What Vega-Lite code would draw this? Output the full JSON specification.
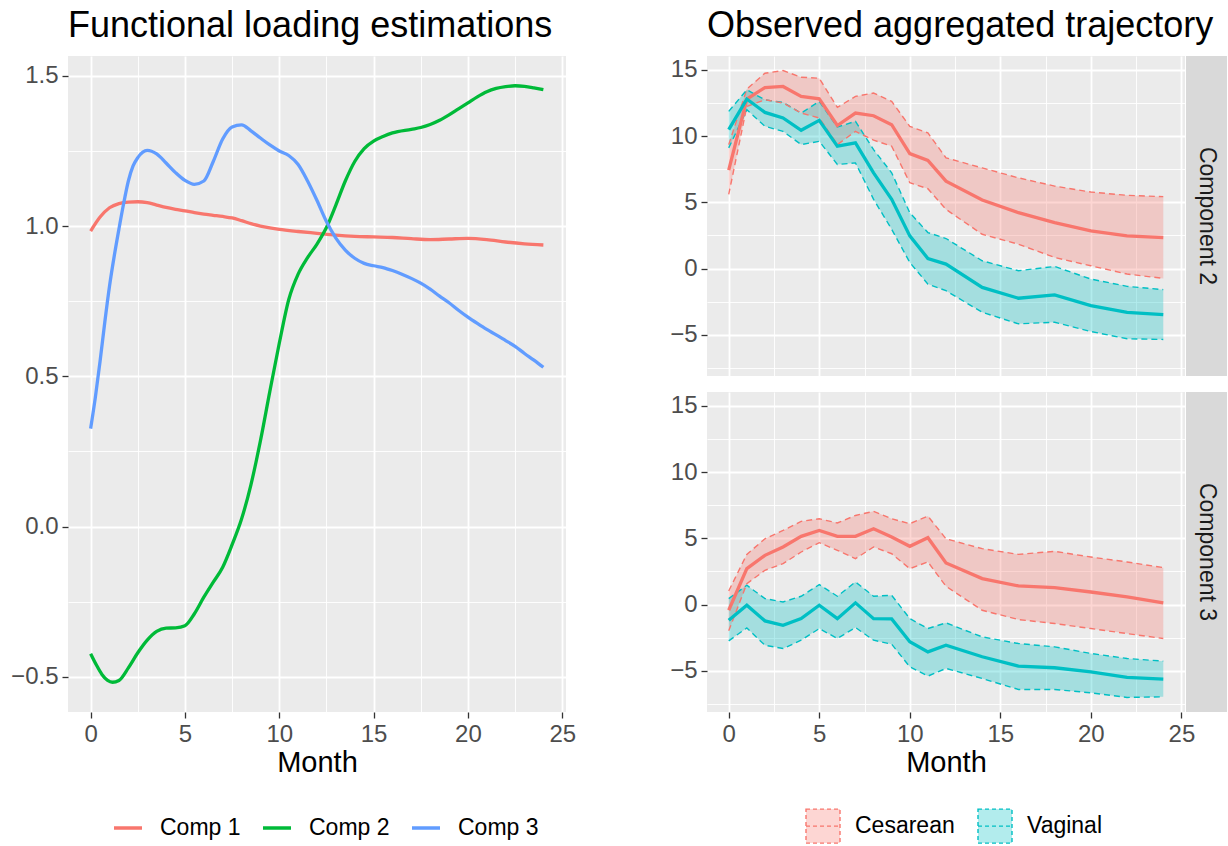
{
  "$schema": "https://vega.github.io/schema/vega-lite/v6.json",
  "background": "#FFFFFF",
  "padding": {"left": 10, "top": 8, "right": 0, "bottom": 0},
  "config": {
    "font": "Liberation Sans",
    "view": {"fill": "#EBEBEB", "stroke": null},
    "axis": {"domain": false, "labelFontSize": 24, "labelColor": "#4D4D4D", "labelFont": "Liberation Sans", "titleFont": "Liberation Sans", "titleFontSize": 29, "titleFontWeight": "normal", "titleColor": "#000000", "gridColor": "#FFFFFF", "tickColor": "#333333", "tickSize": 6, "tickWidth": 1.3, "labelOverlap": false, "labelFlush": false, "labelPadding": 4, "titlePadding": 2},
    "title": {"fontSize": 36, "fontWeight": "normal", "anchor": "start", "frame": "group", "color": "#000000", "offset": 11, "font": "Liberation Sans"},
    "legend": {"labelFontSize": 23, "labelColor": "#000000", "labelLimit": 0, "padding": 0, "labelFont": "Liberation Sans"}
  },
  "datasets": {
    "loadings": [
      {"comp": "Comp 1", "month": 0, "value": 0.983},
      {"comp": "Comp 1", "month": 0.5, "value": 1.03},
      {"comp": "Comp 1", "month": 1, "value": 1.061},
      {"comp": "Comp 1", "month": 1.5, "value": 1.075},
      {"comp": "Comp 1", "month": 2, "value": 1.08},
      {"comp": "Comp 1", "month": 2.5, "value": 1.081},
      {"comp": "Comp 1", "month": 3, "value": 1.078},
      {"comp": "Comp 1", "month": 3.5, "value": 1.07},
      {"comp": "Comp 1", "month": 4, "value": 1.062},
      {"comp": "Comp 1", "month": 4.5, "value": 1.056},
      {"comp": "Comp 1", "month": 5, "value": 1.051},
      {"comp": "Comp 1", "month": 5.5, "value": 1.045},
      {"comp": "Comp 1", "month": 6, "value": 1.04},
      {"comp": "Comp 1", "month": 6.5, "value": 1.036},
      {"comp": "Comp 1", "month": 7, "value": 1.032},
      {"comp": "Comp 1", "month": 7.5, "value": 1.027},
      {"comp": "Comp 1", "month": 8, "value": 1.018},
      {"comp": "Comp 1", "month": 8.5, "value": 1.008},
      {"comp": "Comp 1", "month": 9, "value": 1.0},
      {"comp": "Comp 1", "month": 9.5, "value": 0.994},
      {"comp": "Comp 1", "month": 10, "value": 0.989},
      {"comp": "Comp 1", "month": 11, "value": 0.982},
      {"comp": "Comp 1", "month": 12, "value": 0.976},
      {"comp": "Comp 1", "month": 13, "value": 0.97},
      {"comp": "Comp 1", "month": 14, "value": 0.966},
      {"comp": "Comp 1", "month": 15, "value": 0.964},
      {"comp": "Comp 1", "month": 16, "value": 0.962},
      {"comp": "Comp 1", "month": 17, "value": 0.958},
      {"comp": "Comp 1", "month": 18, "value": 0.955},
      {"comp": "Comp 1", "month": 19, "value": 0.957},
      {"comp": "Comp 1", "month": 20, "value": 0.959},
      {"comp": "Comp 1", "month": 21, "value": 0.955},
      {"comp": "Comp 1", "month": 22, "value": 0.947},
      {"comp": "Comp 1", "month": 23, "value": 0.941},
      {"comp": "Comp 1", "month": 24, "value": 0.937},
      {"comp": "Comp 2", "month": 0, "value": -0.423},
      {"comp": "Comp 2", "month": 0.3, "value": -0.46},
      {"comp": "Comp 2", "month": 0.6, "value": -0.492},
      {"comp": "Comp 2", "month": 0.9, "value": -0.512},
      {"comp": "Comp 2", "month": 1.16, "value": -0.518},
      {"comp": "Comp 2", "month": 1.5, "value": -0.512},
      {"comp": "Comp 2", "month": 2, "value": -0.47},
      {"comp": "Comp 2", "month": 2.5, "value": -0.42},
      {"comp": "Comp 2", "month": 3, "value": -0.378},
      {"comp": "Comp 2", "month": 3.5, "value": -0.349},
      {"comp": "Comp 2", "month": 4, "value": -0.338},
      {"comp": "Comp 2", "month": 4.5, "value": -0.337},
      {"comp": "Comp 2", "month": 5, "value": -0.33},
      {"comp": "Comp 2", "month": 5.5, "value": -0.29},
      {"comp": "Comp 2", "month": 6, "value": -0.235},
      {"comp": "Comp 2", "month": 6.5, "value": -0.185},
      {"comp": "Comp 2", "month": 7, "value": -0.135},
      {"comp": "Comp 2", "month": 7.5, "value": -0.06},
      {"comp": "Comp 2", "month": 8, "value": 0.025},
      {"comp": "Comp 2", "month": 8.5, "value": 0.14},
      {"comp": "Comp 2", "month": 9, "value": 0.285},
      {"comp": "Comp 2", "month": 9.5, "value": 0.45},
      {"comp": "Comp 2", "month": 10, "value": 0.61},
      {"comp": "Comp 2", "month": 10.5, "value": 0.755},
      {"comp": "Comp 2", "month": 11, "value": 0.84},
      {"comp": "Comp 2", "month": 11.5, "value": 0.895},
      {"comp": "Comp 2", "month": 12, "value": 0.94},
      {"comp": "Comp 2", "month": 12.5, "value": 0.995},
      {"comp": "Comp 2", "month": 13, "value": 1.07},
      {"comp": "Comp 2", "month": 13.5, "value": 1.15},
      {"comp": "Comp 2", "month": 14, "value": 1.215},
      {"comp": "Comp 2", "month": 14.5, "value": 1.258},
      {"comp": "Comp 2", "month": 15, "value": 1.283},
      {"comp": "Comp 2", "month": 15.5, "value": 1.298},
      {"comp": "Comp 2", "month": 16, "value": 1.31},
      {"comp": "Comp 2", "month": 17, "value": 1.322},
      {"comp": "Comp 2", "month": 17.5, "value": 1.328},
      {"comp": "Comp 2", "month": 18, "value": 1.338},
      {"comp": "Comp 2", "month": 18.5, "value": 1.352},
      {"comp": "Comp 2", "month": 19, "value": 1.37},
      {"comp": "Comp 2", "month": 19.5, "value": 1.39},
      {"comp": "Comp 2", "month": 20, "value": 1.41},
      {"comp": "Comp 2", "month": 20.5, "value": 1.43},
      {"comp": "Comp 2", "month": 21, "value": 1.447},
      {"comp": "Comp 2", "month": 21.5, "value": 1.458},
      {"comp": "Comp 2", "month": 22, "value": 1.464},
      {"comp": "Comp 2", "month": 22.5, "value": 1.467},
      {"comp": "Comp 2", "month": 23, "value": 1.465},
      {"comp": "Comp 2", "month": 23.5, "value": 1.46},
      {"comp": "Comp 2", "month": 24, "value": 1.454},
      {"comp": "Comp 3", "month": 0, "value": 0.326},
      {"comp": "Comp 3", "month": 0.25, "value": 0.43},
      {"comp": "Comp 3", "month": 0.5, "value": 0.55},
      {"comp": "Comp 3", "month": 0.75, "value": 0.68},
      {"comp": "Comp 3", "month": 1, "value": 0.8},
      {"comp": "Comp 3", "month": 1.25, "value": 0.9},
      {"comp": "Comp 3", "month": 1.5, "value": 0.99},
      {"comp": "Comp 3", "month": 1.75, "value": 1.075},
      {"comp": "Comp 3", "month": 2, "value": 1.15},
      {"comp": "Comp 3", "month": 2.25, "value": 1.2},
      {"comp": "Comp 3", "month": 2.5, "value": 1.228},
      {"comp": "Comp 3", "month": 3, "value": 1.252},
      {"comp": "Comp 3", "month": 3.5, "value": 1.24},
      {"comp": "Comp 3", "month": 4, "value": 1.21},
      {"comp": "Comp 3", "month": 4.5, "value": 1.178},
      {"comp": "Comp 3", "month": 5, "value": 1.152},
      {"comp": "Comp 3", "month": 5.5, "value": 1.139},
      {"comp": "Comp 3", "month": 6, "value": 1.15},
      {"comp": "Comp 3", "month": 6.5, "value": 1.215},
      {"comp": "Comp 3", "month": 7, "value": 1.29},
      {"comp": "Comp 3", "month": 7.5, "value": 1.33},
      {"comp": "Comp 3", "month": 8, "value": 1.337},
      {"comp": "Comp 3", "month": 8.5, "value": 1.317},
      {"comp": "Comp 3", "month": 9, "value": 1.293},
      {"comp": "Comp 3", "month": 9.5, "value": 1.27},
      {"comp": "Comp 3", "month": 10, "value": 1.25},
      {"comp": "Comp 3", "month": 10.5, "value": 1.235},
      {"comp": "Comp 3", "month": 11, "value": 1.205},
      {"comp": "Comp 3", "month": 11.5, "value": 1.15},
      {"comp": "Comp 3", "month": 12, "value": 1.085},
      {"comp": "Comp 3", "month": 12.5, "value": 1.015},
      {"comp": "Comp 3", "month": 13, "value": 0.96},
      {"comp": "Comp 3", "month": 13.5, "value": 0.92},
      {"comp": "Comp 3", "month": 14, "value": 0.893},
      {"comp": "Comp 3", "month": 14.5, "value": 0.876},
      {"comp": "Comp 3", "month": 15, "value": 0.868},
      {"comp": "Comp 3", "month": 15.5, "value": 0.862},
      {"comp": "Comp 3", "month": 16, "value": 0.852},
      {"comp": "Comp 3", "month": 16.5, "value": 0.84},
      {"comp": "Comp 3", "month": 17, "value": 0.826},
      {"comp": "Comp 3", "month": 17.5, "value": 0.81},
      {"comp": "Comp 3", "month": 18, "value": 0.79},
      {"comp": "Comp 3", "month": 18.5, "value": 0.767},
      {"comp": "Comp 3", "month": 19, "value": 0.745},
      {"comp": "Comp 3", "month": 19.5, "value": 0.72},
      {"comp": "Comp 3", "month": 20, "value": 0.697},
      {"comp": "Comp 3", "month": 20.5, "value": 0.676},
      {"comp": "Comp 3", "month": 21, "value": 0.656},
      {"comp": "Comp 3", "month": 21.5, "value": 0.638},
      {"comp": "Comp 3", "month": 22, "value": 0.619},
      {"comp": "Comp 3", "month": 22.5, "value": 0.6},
      {"comp": "Comp 3", "month": 23, "value": 0.576},
      {"comp": "Comp 3", "month": 23.5, "value": 0.554},
      {"comp": "Comp 3", "month": 24, "value": 0.53}
    ],
    "traj": [
      {"comp": "Component 2", "group": "Cesarean", "month": 0, "mean": 7.43, "lo": 5.6, "hi": 9.36},
      {"comp": "Component 2", "group": "Cesarean", "month": 1, "mean": 12.8, "lo": 12.24, "hi": 13.55},
      {"comp": "Component 2", "group": "Cesarean", "month": 2, "mean": 13.67, "lo": 12.75, "hi": 14.75},
      {"comp": "Component 2", "group": "Cesarean", "month": 3, "mean": 13.75, "lo": 12.5, "hi": 14.95},
      {"comp": "Component 2", "group": "Cesarean", "month": 4, "mean": 13.0, "lo": 11.74, "hi": 14.45},
      {"comp": "Component 2", "group": "Cesarean", "month": 5, "mean": 12.82, "lo": 11.37, "hi": 14.37},
      {"comp": "Component 2", "group": "Cesarean", "month": 6, "mean": 10.8, "lo": 9.36, "hi": 12.17},
      {"comp": "Component 2", "group": "Cesarean", "month": 7, "mean": 11.74, "lo": 10.36, "hi": 13.0},
      {"comp": "Component 2", "group": "Cesarean", "month": 8, "mean": 11.54, "lo": 9.7, "hi": 13.25},
      {"comp": "Component 2", "group": "Cesarean", "month": 9, "mean": 10.86, "lo": 9.24, "hi": 12.62},
      {"comp": "Component 2", "group": "Cesarean", "month": 10, "mean": 8.68, "lo": 6.48, "hi": 10.74},
      {"comp": "Component 2", "group": "Cesarean", "month": 11, "mean": 8.16, "lo": 6.03, "hi": 10.24},
      {"comp": "Component 2", "group": "Cesarean", "month": 12, "mean": 6.6, "lo": 4.47, "hi": 8.36},
      {"comp": "Component 2", "group": "Cesarean", "month": 14, "mean": 5.18, "lo": 2.59, "hi": 7.6},
      {"comp": "Component 2", "group": "Cesarean", "month": 16, "mean": 4.22, "lo": 1.84, "hi": 6.85},
      {"comp": "Component 2", "group": "Cesarean", "month": 18, "mean": 3.47, "lo": 0.84, "hi": 6.23},
      {"comp": "Component 2", "group": "Cesarean", "month": 20, "mean": 2.84, "lo": 0.21, "hi": 5.78},
      {"comp": "Component 2", "group": "Cesarean", "month": 22, "mean": 2.47, "lo": -0.41, "hi": 5.53},
      {"comp": "Component 2", "group": "Cesarean", "month": 24, "mean": 2.34, "lo": -0.74, "hi": 5.43},
      {"comp": "Component 2", "group": "Vaginal", "month": 0, "mean": 10.49, "lo": 9.11, "hi": 11.87},
      {"comp": "Component 2", "group": "Vaginal", "month": 1, "mean": 12.8, "lo": 11.99, "hi": 13.5},
      {"comp": "Component 2", "group": "Vaginal", "month": 2, "mean": 11.79, "lo": 10.74, "hi": 12.74},
      {"comp": "Component 2", "group": "Vaginal", "month": 3, "mean": 11.37, "lo": 10.36, "hi": 12.54},
      {"comp": "Component 2", "group": "Vaginal", "month": 4, "mean": 10.44, "lo": 9.36, "hi": 11.74},
      {"comp": "Component 2", "group": "Vaginal", "month": 5, "mean": 11.19, "lo": 9.61, "hi": 12.62},
      {"comp": "Component 2", "group": "Vaginal", "month": 6, "mean": 9.24, "lo": 7.86, "hi": 10.69},
      {"comp": "Component 2", "group": "Vaginal", "month": 7, "mean": 9.49, "lo": 7.98, "hi": 11.12},
      {"comp": "Component 2", "group": "Vaginal", "month": 8, "mean": 7.23, "lo": 5.23, "hi": 8.98},
      {"comp": "Component 2", "group": "Vaginal", "month": 9, "mean": 5.23, "lo": 2.97, "hi": 7.23},
      {"comp": "Component 2", "group": "Vaginal", "month": 10, "mean": 2.47, "lo": 0.46, "hi": 4.22},
      {"comp": "Component 2", "group": "Vaginal", "month": 11, "mean": 0.76, "lo": -1.17, "hi": 2.72},
      {"comp": "Component 2", "group": "Vaginal", "month": 12, "mean": 0.34, "lo": -1.67, "hi": 2.27},
      {"comp": "Component 2", "group": "Vaginal", "month": 14, "mean": -1.42, "lo": -3.3, "hi": 0.59},
      {"comp": "Component 2", "group": "Vaginal", "month": 16, "mean": -2.24, "lo": -4.17, "hi": -0.16},
      {"comp": "Component 2", "group": "Vaginal", "month": 18, "mean": -1.99, "lo": -4.05, "hi": 0.16},
      {"comp": "Component 2", "group": "Vaginal", "month": 20, "mean": -2.79, "lo": -4.75, "hi": -0.79},
      {"comp": "Component 2", "group": "Vaginal", "month": 22, "mean": -3.3, "lo": -5.3, "hi": -1.34},
      {"comp": "Component 2", "group": "Vaginal", "month": 24, "mean": -3.47, "lo": -5.35, "hi": -1.59},
      {"comp": "Component 3", "group": "Cesarean", "month": 0, "mean": -0.43, "lo": -1.98, "hi": 1.03},
      {"comp": "Component 3", "group": "Cesarean", "month": 1, "mean": 2.71, "lo": 1.58, "hi": 3.79},
      {"comp": "Component 3", "group": "Cesarean", "month": 2, "mean": 3.72, "lo": 2.59, "hi": 4.97},
      {"comp": "Component 3", "group": "Cesarean", "month": 3, "mean": 4.35, "lo": 3.09, "hi": 5.6},
      {"comp": "Component 3", "group": "Cesarean", "month": 4, "mean": 5.15, "lo": 3.97, "hi": 6.28},
      {"comp": "Component 3", "group": "Cesarean", "month": 5, "mean": 5.6, "lo": 4.67, "hi": 6.48},
      {"comp": "Component 3", "group": "Cesarean", "month": 6, "mean": 5.15, "lo": 4.1, "hi": 6.16},
      {"comp": "Component 3", "group": "Cesarean", "month": 7, "mean": 5.15, "lo": 3.47, "hi": 6.73},
      {"comp": "Component 3", "group": "Cesarean", "month": 8, "mean": 5.73, "lo": 4.35, "hi": 7.04},
      {"comp": "Component 3", "group": "Cesarean", "month": 9, "mean": 5.1, "lo": 3.84, "hi": 6.48},
      {"comp": "Component 3", "group": "Cesarean", "month": 10, "mean": 4.4, "lo": 2.71, "hi": 6.11},
      {"comp": "Component 3", "group": "Cesarean", "month": 11, "mean": 5.05, "lo": 3.22, "hi": 6.68},
      {"comp": "Component 3", "group": "Cesarean", "month": 12, "mean": 3.14, "lo": 1.38, "hi": 4.97},
      {"comp": "Component 3", "group": "Cesarean", "month": 14, "mean": 1.96, "lo": -0.43, "hi": 4.22},
      {"comp": "Component 3", "group": "Cesarean", "month": 16, "mean": 1.41, "lo": -1.13, "hi": 3.79},
      {"comp": "Component 3", "group": "Cesarean", "month": 18, "mean": 1.28, "lo": -1.43, "hi": 4.02},
      {"comp": "Component 3", "group": "Cesarean", "month": 20, "mean": 0.95, "lo": -1.81, "hi": 3.59},
      {"comp": "Component 3", "group": "Cesarean", "month": 22, "mean": 0.58, "lo": -2.19, "hi": 3.22},
      {"comp": "Component 3", "group": "Cesarean", "month": 24, "mean": 0.13, "lo": -2.56, "hi": 2.79},
      {"comp": "Component 3", "group": "Vaginal", "month": 0, "mean": -1.18, "lo": -2.74, "hi": 0.45},
      {"comp": "Component 3", "group": "Vaginal", "month": 1, "mean": -0.05, "lo": -1.76, "hi": 1.46},
      {"comp": "Component 3", "group": "Vaginal", "month": 2, "mean": -1.23, "lo": -3.07, "hi": 0.45},
      {"comp": "Component 3", "group": "Vaginal", "month": 3, "mean": -1.56, "lo": -3.32, "hi": 0.2},
      {"comp": "Component 3", "group": "Vaginal", "month": 4, "mean": -1.06, "lo": -2.69, "hi": 0.63},
      {"comp": "Component 3", "group": "Vaginal", "month": 5, "mean": -0.05, "lo": -1.81, "hi": 1.51},
      {"comp": "Component 3", "group": "Vaginal", "month": 6, "mean": -1.06, "lo": -2.56, "hi": 0.63},
      {"comp": "Component 3", "group": "Vaginal", "month": 7, "mean": 0.13, "lo": -1.73, "hi": 1.71},
      {"comp": "Component 3", "group": "Vaginal", "month": 8, "mean": -1.06, "lo": -2.69, "hi": 0.63},
      {"comp": "Component 3", "group": "Vaginal", "month": 9, "mean": -1.08, "lo": -2.99, "hi": 0.7},
      {"comp": "Component 3", "group": "Vaginal", "month": 10, "mean": -2.81, "lo": -4.7, "hi": -1.06},
      {"comp": "Component 3", "group": "Vaginal", "month": 11, "mean": -3.57, "lo": -5.4, "hi": -1.81},
      {"comp": "Component 3", "group": "Vaginal", "month": 12, "mean": -3.07, "lo": -4.82, "hi": -1.38},
      {"comp": "Component 3", "group": "Vaginal", "month": 14, "mean": -3.94, "lo": -5.58, "hi": -2.44},
      {"comp": "Component 3", "group": "Vaginal", "month": 16, "mean": -4.65, "lo": -6.41, "hi": -2.94},
      {"comp": "Component 3", "group": "Vaginal", "month": 18, "mean": -4.77, "lo": -6.41, "hi": -3.19},
      {"comp": "Component 3", "group": "Vaginal", "month": 20, "mean": -5.08, "lo": -6.66, "hi": -3.69},
      {"comp": "Component 3", "group": "Vaginal", "month": 22, "mean": -5.5, "lo": -7.01, "hi": -4.07},
      {"comp": "Component 3", "group": "Vaginal", "month": 24, "mean": -5.63, "lo": -6.96, "hi": -4.27}
    ]
  },
  "resolve": {"scale": {"stroke": "independent", "fill": "independent"}},
  "spacing": 93,
  "hconcat": [
    {
      "width": 498,
      "height": 656,
      "title": {"text": "Functional loading estimations"},
      "data": {"name": "loadings"},
      "mark": {"type": "line", "strokeWidth": 3.3, "interpolate": "monotone"},
      "encoding": {
        "x": {"field": "month", "type": "quantitative", "title": "Month",
          "scale": {"domain": [-1.2, 25.2], "nice": false, "zero": false},
          "axis": {"values": [0, 2.5, 5, 7.5, 10, 12.5, 15, 17.5, 20, 22.5, 25],
            "labelExpr": "datum.value % 5 === 0 ? datum.label : ''",
            "gridWidth": {"condition": {"test": "datum.value % 5 === 0", "value": 1.8}, "value": 0.9},
            "tickOpacity": {"condition": {"test": "datum.value % 5 === 0", "value": 1}, "value": 0}}},
        "y": {"field": "value", "type": "quantitative", "title": null,
          "scale": {"domain": [-0.617, 1.566], "nice": false, "zero": false},
          "axis": {"values": [-0.5, -0.25, 0, 0.25, 0.5, 0.75, 1, 1.25, 1.5], "format": ".1f",
            "labelExpr": "abs(datum.value * 2 - round(datum.value * 2)) < 0.001 ? datum.label : ''",
            "gridWidth": {"condition": {"test": "abs(datum.value * 2 - round(datum.value * 2)) < 0.001", "value": 1.8}, "value": 0.9},
            "tickOpacity": {"condition": {"test": "abs(datum.value * 2 - round(datum.value * 2)) < 0.001", "value": 1}, "value": 0}}},
        "stroke": {"field": "comp", "type": "nominal",
          "scale": {"domain": ["Comp 1", "Comp 2", "Comp 3"], "range": ["#F8766D", "#00BA38", "#619CFF"]},
          "legend": {"orient": "none", "legendX": 44, "legendY": 756, "direction": "horizontal", "title": null,
            "symbolType": "stroke", "symbolSize": 784, "symbolStrokeWidth": 3.5,
            "labelOffset": 16, "columnPadding": 15}}
      }
    },
    {
      "spacing": 12,
      "vconcat": [
        {
          "bounds": "flush",
          "spacing": 1,
          "hconcat": [
            {
              "width": 478,
              "height": 320,
              "title": {"text": "Observed aggregated trajectory"},
              "data": {"name": "traj"},
              "transform": [{"filter": "datum.comp === 'Component 2'"}],
              "encoding": {
                "x": {"field": "month", "type": "quantitative", "title": null,
                  "scale": {"domain": [-1.2, 25.2], "nice": false, "zero": false},
                  "axis": {"values": [0, 2.5, 5, 7.5, 10, 12.5, 15, 17.5, 20, 22.5, 25], "labels": false, "ticks": false,
                    "gridWidth": {"condition": {"test": "datum.value % 5 === 0", "value": 1.8}, "value": 0.9}}},
                "y": {"field": "mean", "type": "quantitative", "title": null,
                  "scale": {"domain": [-8.11, 16.05], "nice": false, "zero": false},
                  "axis": {"orient": "left", "values": [-7.5, -5, -2.5, 0, 2.5, 5, 7.5, 10, 12.5, 15], "format": "d",
                    "labelExpr": "abs(datum.value / 5 - round(datum.value / 5)) < 0.001 ? datum.label : ''",
                    "gridWidth": {"condition": {"test": "abs(datum.value / 5 - round(datum.value / 5)) < 0.001", "value": 1.8}, "value": 0.9},
                    "tickOpacity": {"condition": {"test": "abs(datum.value / 5 - round(datum.value / 5)) < 0.001", "value": 1}, "value": 0}}}
              },
              "layer": [
                {
                  "mark": {"type": "area", "fillOpacity": 0.3},
                  "encoding": {
                    "y": {"field": "lo", "type": "quantitative", "title": null},
                    "y2": {"field": "hi"},
                    "fill": {"field": "group", "type": "nominal",
                      "scale": {"domain": ["Cesarean", "Vaginal"], "range": ["#F8766D", "#00BFC4"]},
                      "legend": {"orient": "none", "legendX": 98, "legendY": 752, "direction": "horizontal", "title": null,
                        "symbolType": "M-1,-1H1V1H-1Z M-1,0H1", "symbolSize": 1156, "symbolStrokeWidth": 1.4, "symbolDash": [4, 3],
                        "labelOffset": 14, "columnPadding": 20,
                        "encode": {"symbols": {"update": {"fillOpacity": {"value": 0.3}}}}}}
                  }
                },
                {
                  "mark": {"type": "line", "strokeWidth": 1.4, "strokeDash": [6, 4]},
                  "encoding": {
                    "y": {"field": "hi", "type": "quantitative", "title": null},
                    "stroke": {"field": "group", "type": "nominal",
                      "scale": {"domain": ["Cesarean", "Vaginal"], "range": ["#F8766D", "#00BFC4"]},
                      "legend": {"orient": "none", "legendX": 98, "legendY": 752, "direction": "horizontal", "title": null,
                        "symbolType": "M-1,-1H1V1H-1Z M-1,0H1", "symbolSize": 1156, "symbolStrokeWidth": 1.4, "symbolDash": [4, 3],
                        "labelOffset": 14, "columnPadding": 20,
                        "encode": {"symbols": {"update": {"fillOpacity": {"value": 0.3}}}}}}
                  }
                },
                {
                  "mark": {"type": "line", "strokeWidth": 1.4, "strokeDash": [6, 4]},
                  "encoding": {
                    "y": {"field": "lo", "type": "quantitative", "title": null},
                    "stroke": {"field": "group", "type": "nominal"}
                  }
                },
                {
                  "mark": {"type": "line", "strokeWidth": 3.3},
                  "encoding": {
                    "stroke": {"field": "group", "type": "nominal"}
                  }
                }
              ]
            },
            {
              "width": 41,
              "height": 320,
              "view": {"fill": "#D9D9D9", "stroke": null},
              "data": {"values": [{"comp": "Component 2"}]},
              "mark": {"type": "text", "angle": 90, "fontSize": 23, "color": "#1A1A1A", "align": "center", "baseline": "middle", "font": "Liberation Sans"},
              "encoding": {"text": {"field": "comp", "type": "nominal"}}
            }
          ]
        },
        {
          "bounds": "flush",
          "spacing": 1,
          "hconcat": [
            {
              "width": 478,
              "height": 320,
              "data": {"name": "traj"},
              "transform": [{"filter": "datum.comp === 'Component 3'"}],
              "encoding": {
                "x": {"field": "month", "type": "quantitative", "title": "Month",
                  "scale": {"domain": [-1.2, 25.2], "nice": false, "zero": false},
                  "axis": {"values": [0, 2.5, 5, 7.5, 10, 12.5, 15, 17.5, 20, 22.5, 25],
                    "labelExpr": "datum.value % 5 === 0 ? datum.label : ''",
                    "gridWidth": {"condition": {"test": "datum.value % 5 === 0", "value": 1.8}, "value": 0.9},
                    "tickOpacity": {"condition": {"test": "datum.value % 5 === 0", "value": 1}, "value": 0}}},
                "y": {"field": "mean", "type": "quantitative", "title": null,
                  "scale": {"domain": [-8.11, 16.05], "nice": false, "zero": false},
                  "axis": {"orient": "left", "values": [-7.5, -5, -2.5, 0, 2.5, 5, 7.5, 10, 12.5, 15], "format": "d",
                    "labelExpr": "abs(datum.value / 5 - round(datum.value / 5)) < 0.001 ? datum.label : ''",
                    "gridWidth": {"condition": {"test": "abs(datum.value / 5 - round(datum.value / 5)) < 0.001", "value": 1.8}, "value": 0.9},
                    "tickOpacity": {"condition": {"test": "abs(datum.value / 5 - round(datum.value / 5)) < 0.001", "value": 1}, "value": 0}}}
              },
              "layer": [
                {
                  "mark": {"type": "area", "fillOpacity": 0.3},
                  "encoding": {
                    "y": {"field": "lo", "type": "quantitative", "title": null},
                    "y2": {"field": "hi"},
                    "fill": {"field": "group", "type": "nominal",
                      "scale": {"domain": ["Cesarean", "Vaginal"], "range": ["#F8766D", "#00BFC4"]},
                      "legend": {"orient": "none", "legendX": 98, "legendY": 752, "direction": "horizontal", "title": null,
                        "symbolType": "M-1,-1H1V1H-1Z M-1,0H1", "symbolSize": 1156, "symbolStrokeWidth": 1.4, "symbolDash": [4, 3],
                        "labelOffset": 14, "columnPadding": 20,
                        "encode": {"symbols": {"update": {"fillOpacity": {"value": 0.3}}}}}}
                  }
                },
                {
                  "mark": {"type": "line", "strokeWidth": 1.4, "strokeDash": [6, 4]},
                  "encoding": {
                    "y": {"field": "hi", "type": "quantitative", "title": null},
                    "stroke": {"field": "group", "type": "nominal",
                      "scale": {"domain": ["Cesarean", "Vaginal"], "range": ["#F8766D", "#00BFC4"]},
                      "legend": {"orient": "none", "legendX": 98, "legendY": 752, "direction": "horizontal", "title": null,
                        "symbolType": "M-1,-1H1V1H-1Z M-1,0H1", "symbolSize": 1156, "symbolStrokeWidth": 1.4, "symbolDash": [4, 3],
                        "labelOffset": 14, "columnPadding": 20,
                        "encode": {"symbols": {"update": {"fillOpacity": {"value": 0.3}}}}}}
                  }
                },
                {
                  "mark": {"type": "line", "strokeWidth": 1.4, "strokeDash": [6, 4]},
                  "encoding": {
                    "y": {"field": "lo", "type": "quantitative", "title": null},
                    "stroke": {"field": "group", "type": "nominal"}
                  }
                },
                {
                  "mark": {"type": "line", "strokeWidth": 3.3},
                  "encoding": {
                    "stroke": {"field": "group", "type": "nominal"}
                  }
                }
              ]
            },
            {
              "width": 41,
              "height": 320,
              "view": {"fill": "#D9D9D9", "stroke": null},
              "data": {"values": [{"comp": "Component 3"}]},
              "mark": {"type": "text", "angle": 90, "fontSize": 23, "color": "#1A1A1A", "align": "center", "baseline": "middle", "font": "Liberation Sans"},
              "encoding": {"text": {"field": "comp", "type": "nominal"}}
            }
          ]
        }
      ]
    }
  ]
}
